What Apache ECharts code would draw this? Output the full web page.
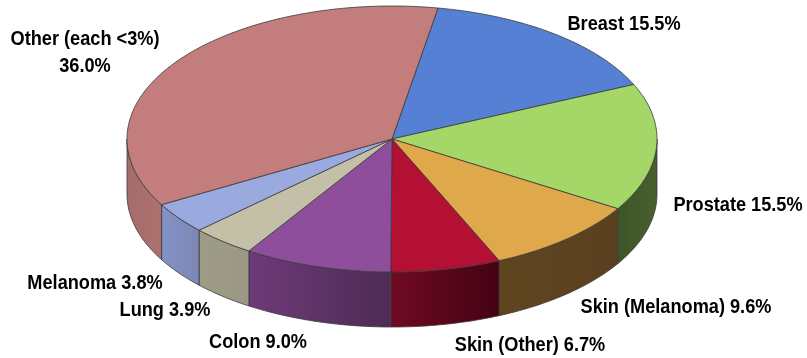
<!DOCTYPE html>
<html><head><meta charset="utf-8">
<style>html,body{margin:0;padding:0;background:#fff}#c{width:807px;height:358px}</style>
<script src="https://cdn.jsdelivr.net/npm/echarts@6/dist/echarts.min.js"></script>
</head><body><div id="c"></div>
<script>
const categories = ['Breast','Prostate','Skin (Melanoma)','Skin (Other)','Colon','Lung','Melanoma','Other (each <3%)'];
const values = [15.5,15.5,9.6,6.7,9.0,3.9,3.8,36.0];
const topColors = ['#5580D4','#A4D768','#DFA84A','#B31033','#8F4E9C','#C4BFA7','#9AAADF','#C37D7D'];
const sideStart = ['#4A6FB5','#3E5427','#5F451F','#700A22','#6E3B79','#9E9C87','#8492C6','#A46C6A'];
const sideEnd   = ['#4A6FB5','#48602E','#5A401F','#430213','#4E2B55','#9A9884','#7D87B4','#AD7270'];
const labelLines = [
  {i:0,x:624,y:24},{i:1,x:738,y:205},{i:2,x:676,y:307},{i:3,x:530,y:345},
  {i:4,x:258,y:342},{i:5,x:165,y:310},{i:6,x:95,y:283}
];
const startDeg = 80, depth = 55;

const spans = []; let acc = startDeg;
values.forEach(v => { const a = v/100*360; spans.push([acc, acc-a]); acc -= a; });
const rad = d => d*Math.PI/180;

function arc(api, from, to){
  const pts = [], n = Math.max(2, Math.ceil(Math.abs(from-to)));
  for (let k=0;k<=n;k++){ const d = rad(from+(to-from)*k/n); pts.push(api.coord([Math.cos(d),Math.sin(d)])); }
  return pts;
}
const stroke = {stroke:'#3a3a3a', lineWidth:0.8, lineJoin:'round'};
function renderSide(params, api){
  const i = params.dataIndex, sp = spans[i], parts = [];
  for (const [lo,hi] of [[-180,0],[-540,-360]]) {
    const a = Math.min(sp[0],hi), b = Math.max(sp[1],lo);
    if (a>b){
      const upper = arc(api,a,b);
      const lower = upper.slice().reverse().map(p=>[p[0],p[1]+depth]);
      parts.push({type:'polygon',shape:{points:upper.concat(lower)},style:Object.assign({
        fill:{type:'linear',x:0,y:0,x2:1,y2:0,colorStops:[{offset:0,color:sideStart[i]},{offset:1,color:sideEnd[i]}]}},stroke)});
    }
  }
  return {type:'group',children:parts};
}
function renderTop(params, api){
  const i = params.dataIndex, sp = spans[i];
  const pts = [api.coord([0,0])].concat(arc(api,sp[0],sp[1]));
  return {type:'polygon',shape:{points:pts},style:Object.assign({fill:topColors[i]},stroke)};
}
const font = {fontFamily:'"Liberation Sans",Arial,sans-serif',fontWeight:'bold',fontSize:21,fill:'#000',textAlign:'center',textVerticalAlign:'middle'};
const squeeze = 0.865;
const texts = labelLines.map(l=>({type:'text',x:l.x,y:l.y,scaleX:squeeze,silent:true,
  style:Object.assign({},font,{text:categories[l.i]+' '+values[l.i].toFixed(1)+'%'})}));
texts.push({type:'text',x:85,y:39,scaleX:squeeze,style:Object.assign({},font,{text:categories[7]})});
texts.push({type:'text',x:85,y:66,scaleX:squeeze,style:Object.assign({},font,{text:values[7].toFixed(1)+'%'})});

const chart = echarts.init(document.getElementById('c'),null,{renderer:'canvas'});
chart.setOption({
  animation:false, backgroundColor:'#fff',
  grid:{left:127,right:150,top:6,bottom:86},
  xAxis:{type:'value',min:-1,max:1,show:false},
  yAxis:{type:'value',min:-1,max:1,show:false},
  graphic:texts,
  series:[
    {type:'custom',coordinateSystem:'cartesian2d',renderItem:renderSide,data:values.map((v,i)=>[i,v]),clip:false,z:1,silent:true},
    {type:'custom',coordinateSystem:'cartesian2d',renderItem:renderTop,data:values.map((v,i)=>[i,v]),clip:false,z:2,silent:true}
  ]
});
</script></body></html>
